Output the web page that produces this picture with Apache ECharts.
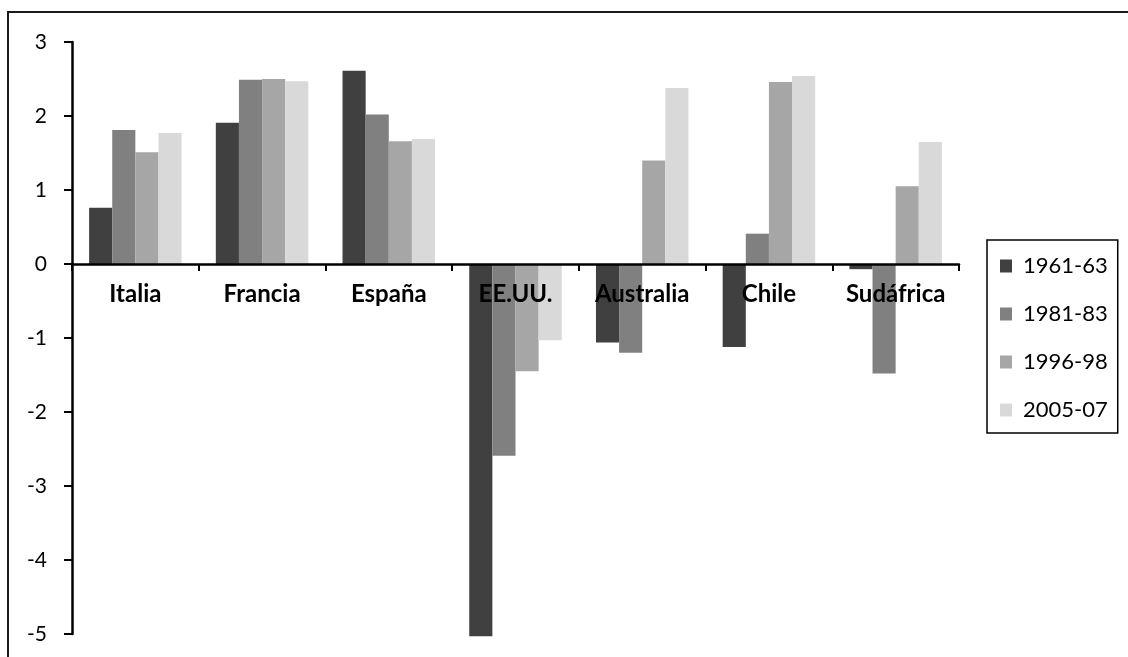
<!DOCTYPE html>
<html>
<head>
<meta charset="utf-8">
<script src="https://cdn.jsdelivr.net/npm/echarts@6/dist/echarts.min.js"></script>
<style>
html,body{margin:0;padding:0;background:#fff;}
#c{width:1128px;height:657px;}
</style>
</head>
<body>
<div id="c"></div>
<script>
var categories = ['Italia','Francia','España','EE.UU.','Australia','Chile','Sudáfrica'];
var seriesNames = ['1961-63','1981-83','1996-98','2005-07'];
var v1961 = [0.76, 1.91, 2.61, -5.03, -1.06, -1.12, -0.07];
var v1981 = [1.81, 2.49, 2.02, -2.59, -1.20, 0.41, -1.48];
var v1996 = [1.51, 2.50, 1.66, -1.45, 1.40, 2.46, 1.05];
var v2005 = [1.77, 2.47, 1.69, -1.03, 2.38, 2.54, 1.65];
var yTicks = [-5,-4,-3,-2,-1,0,1,2,3];

var colors = ['#404040','#808080','#a6a6a6','#d9d9d9'];
var values = [v1961, v1981, v1996, v2005];
var FONT = 'Lato';

var GRID_TOP = 42, GRID_BOTTOM = 23, H = 657;
var yMin = yTicks[0], yMax = yTicks[yTicks.length - 1];
var plotH = H - GRID_TOP - GRID_BOTTOM;
var zeroOffset = -plotH * (0 - yMin) / (yMax - yMin);

var chart = echarts.init(document.getElementById('c'));
chart.setOption({
  animation: false,
  backgroundColor: '#fff',
  graphic: [{
    type: 'rect',
    shape: {x: 8, y: 12, width: 1300, height: 800},
    style: {fill: 'none', stroke: '#1a1a1a', lineWidth: 2},
    z: -1
  }],
  grid: {left: 72, right: 169, top: GRID_TOP, bottom: GRID_BOTTOM, containLabel: false},
  legend: {
    orient: 'vertical',
    left: 987,
    top: 240,
    width: 135,
    padding: [15, 10, 12, 13],
    itemGap: 26,
    itemWidth: 12,
    itemHeight: 13,
    icon: 'rect',
    borderColor: '#000',
    borderWidth: 1.5,
    textStyle: {fontFamily: FONT, fontSize: 22, color: '#000', lineHeight: 22, padding: [0,0,0,6]},
    data: seriesNames
  },
  xAxis: {
    type: 'category',
    data: categories,
    z: 10,
    offset: zeroOffset,
    axisLine: {onZero: false, lineStyle: {color: '#000', width: 2.5}},
    axisTick: {show: true, length: 7, lineStyle: {color: '#000', width: 2}},
    axisLabel: {fontFamily: FONT, fontWeight: 'bold', fontSize: 24, color: '#000', margin: 18, interval: 0}
  },
  yAxis: {
    type: 'value',
    min: yMin,
    max: yMax,
    interval: 1,
    splitLine: {show: false},
    axisLine: {show: true, lineStyle: {color: '#000', width: 2.5}},
    axisTick: {show: true, length: 8, lineStyle: {color: '#000', width: 2}},
    axisLabel: {fontFamily: FONT, fontSize: 21, color: '#000', margin: 25}
  },
  series: seriesNames.map(function(n, i){
    return {
      name: n,
      type: 'bar',
      data: values[i],
      clip: false,
      barGap: '0%',
      barCategoryGap: '27%',
      itemStyle: {color: colors[i]}
    };
  })
});
</script>
</body>
</html>
